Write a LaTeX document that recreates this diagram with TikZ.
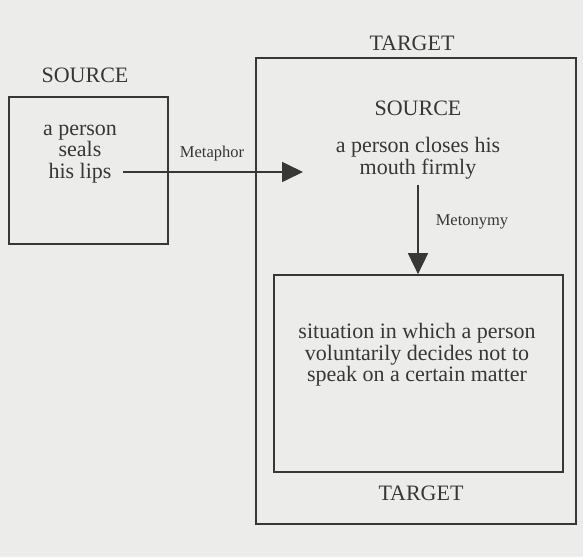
\documentclass[tikz,border=0pt]{standalone}
\usepackage{fontspec}
\setmainfont{Liberation Serif}
\usetikzlibrary{arrows.meta}
\definecolor{bg}{RGB}{236,236,234}
\definecolor{ink}{RGB}{55,55,55}
\begin{document}
\begin{tikzpicture}[x=1pt,y=-1pt,
  box/.style={draw=ink,line width=1.7pt},
  lbl/.style={text=ink,font=\fontsize{22}{21.5}\selectfont,inner sep=0pt,align=center},
  small/.style={text=ink,font=\fontsize{16.5}{18}\selectfont,inner sep=0pt},
  arr/.style={draw=ink,line width=1.7pt,-{Triangle[length=21pt,width=20pt]}}]
\fill[bg] (0,0) rectangle (583,557);
\useasboundingbox (0,0) rectangle (583,557);
% left source box
\draw[box] (9,97) rectangle (168,244);
\node[lbl] (srcL) at (85,75) {SOURCE};
\node[lbl] (lefttext) at (80,154) {a person\\seals\\his lips};
% outer target box
\draw[box] (256,58) rectangle (576,524);
\node[lbl] (tgtTop) at (412,43) {TARGET};
\node[lbl] (srcIn) at (418,108) {SOURCE};
\node[lbl] (midtext) at (418,158) {a person closes his\\mouth firmly};
% inner target box
\node[box,minimum width=289pt,minimum height=197pt,inner sep=0pt] (inner) at (418.5,373.5) {};
\node[lbl] (innertext) at (417,355) {situation in which a person\\voluntarily decides not to\\speak on a certain matter};
\node[lbl] (tgtBot) at (421,493) {TARGET};
% arrows
\coordinate (mstart) at (123,172);
\coordinate (mend) at (303,172);
\draw[arr] (mstart) -- (mend);
\node[small] (metaphor) at (212,154) {Metaphor};
\coordinate (vstart) at (418,185);
\draw[arr] (vstart) -- (inner.north -| vstart);
\node[small] (metonymy) at (472,222) {Metonymy};
\end{tikzpicture}
\end{document}
